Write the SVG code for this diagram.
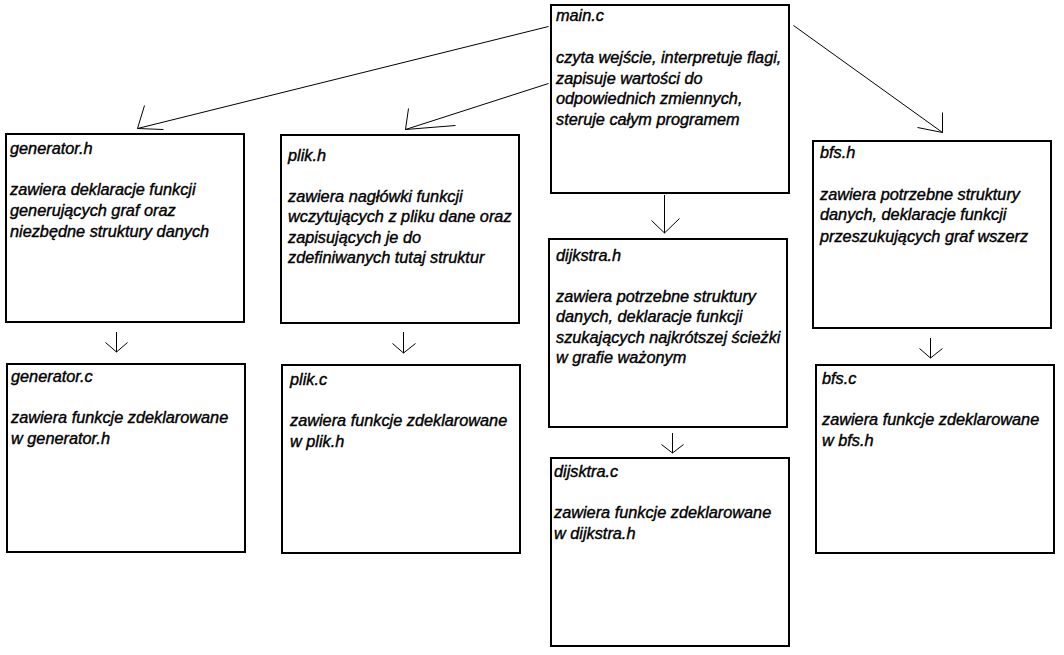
<svg xmlns="http://www.w3.org/2000/svg" width="1064" height="655" viewBox="0 0 1064 655">
<style>
.box{fill:#fff;stroke:#000;stroke-width:2}
.t{font-family:"Liberation Sans",Arial,sans-serif;font-style:italic;font-size:16.3px;fill:#000;stroke:#000;stroke-width:0.4}
.c{fill:none;stroke:#000;stroke-width:1}
</style>
<rect width="1064" height="655" fill="#fff"/>
<g id="connectors">
<path class="c" d="M548.5,26.5 L137.5,128.5 M144.5,105.5 L137.5,128.5 L163.5,129.5"/>
<path class="c" d="M548.5,83.5 L405.5,129.5 M408.5,108.5 L405.5,129.5 L455.5,125.5"/>
<path class="c" d="M793.5,25.5 L942.5,132.5 M942.5,112.5 L942.5,132.5 L917.5,127.5"/>
<path class="c" d="M664.5,195 L664.5,233 M651.5,220.5 L664.5,233 L679.5,218.5"/>
<path class="c" d="M116.5,332 L116.5,352 M105.5,342.5 L116.5,352 L127.5,342.5"/>
<path class="c" d="M403.5,332 L403.5,353 M392.5,343.5 L403.5,353 L415.5,343.5"/>
<path class="c" d="M672.5,433 L672.5,453 M661.5,444.5 L672.5,453 L683.5,444.5"/>
<path class="c" d="M930.5,338 L930.5,358 M919.5,348.5 L930.5,358 L942.5,348.5"/>
</g>
<g id="main">
<rect class="box" x="551" y="5" width="238" height="188"/>
<text class="t" x="556" y="21">main.c</text>
<text class="t" x="556" y="63">czyta wejście, interpretuje flagi,</text>
<text class="t" x="556" y="84">zapisuje wartości do</text>
<text class="t" x="556" y="104">odpowiednich zmiennych,</text>
<text class="t" x="556" y="125">steruje całym programem</text>
</g>
<g id="generator_h">
<rect class="box" x="6" y="134" width="238" height="188"/>
<text class="t" x="10" y="154">generator.h</text>
<text class="t" x="10" y="195">zawiera deklaracje funkcji</text>
<text class="t" x="10" y="216">generujących graf oraz</text>
<text class="t" x="10" y="237">niezbędne struktury danych</text>
</g>
<g id="plik_h">
<rect class="box" x="281" y="135" width="238" height="188"/>
<text class="t" x="288" y="161">plik.h</text>
<text class="t" x="288" y="202">zawiera nagłówki funkcji</text>
<text class="t" x="288" y="222">wczytujących z pliku dane oraz</text>
<text class="t" x="288" y="243">zapisujących je do</text>
<text class="t" x="288" y="263">zdefiniwanych tutaj struktur</text>
</g>
<g id="dijkstra_h">
<rect class="box" x="549" y="239" width="238" height="188"/>
<text class="t" x="556" y="261">dijkstra.h</text>
<text class="t" x="556" y="302">zawiera potrzebne struktury</text>
<text class="t" x="556" y="322">danych, deklaracje funkcji</text>
<text class="t" x="556" y="343">szukających najkrótszej ścieżki</text>
<text class="t" x="556" y="363">w grafie ważonym</text>
</g>
<g id="bfs_h">
<rect class="box" x="813" y="141" width="238" height="187"/>
<text class="t" x="820" y="158">bfs.h</text>
<text class="t" x="820" y="200">zawiera potrzebne struktury</text>
<text class="t" x="820" y="220">danych, deklaracje funkcji</text>
<text class="t" x="820" y="242">przeszukujących graf wszerz</text>
</g>
<g id="generator_c">
<rect class="box" x="7" y="364" width="238" height="188"/>
<text class="t" x="11" y="382">generator.c</text>
<text class="t" x="11" y="423">zawiera funkcje zdeklarowane</text>
<text class="t" x="11" y="444">w generator.h</text>
</g>
<g id="plik_c">
<rect class="box" x="282" y="365" width="238" height="188"/>
<text class="t" x="290" y="385">plik.c</text>
<text class="t" x="290" y="426">zawiera funkcje zdeklarowane</text>
<text class="t" x="290" y="447">w plik.h</text>
</g>
<g id="dijsktra_c">
<rect class="box" x="551" y="458" width="238" height="188"/>
<text class="t" x="554" y="477">dijsktra.c</text>
<text class="t" x="554" y="518">zawiera funkcje zdeklarowane</text>
<text class="t" x="554" y="539">w dijkstra.h</text>
</g>
<g id="bfs_c">
<rect class="box" x="816" y="365" width="238" height="188"/>
<text class="t" x="822" y="384">bfs.c</text>
<text class="t" x="822" y="425">zawiera funkcje zdeklarowane</text>
<text class="t" x="822" y="446">w bfs.h</text>
</g>
</svg>
